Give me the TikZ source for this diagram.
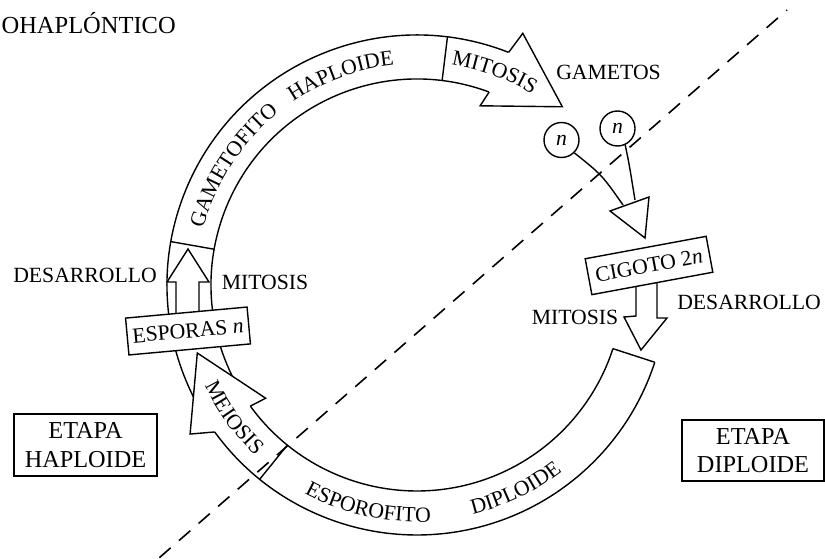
\documentclass[tikz,border=0pt]{standalone}
\usepackage{fontspec}
\setmainfont{Liberation Serif}
\usetikzlibrary{decorations.text}
\newcommand\labfont{\fontsize{21.7}{26}\selectfont}
\newcommand\etapafont{\fontsize{24.3}{28.5}\selectfont}
\newcommand\titlefont{\fontsize{24.5}{29}\selectfont}

\tikzset{
  outline/.style={line width=1.4pt, line join=miter},
  blockarrow/.style={outline, fill=white},
  labelbox/.style={draw, line width=1.4pt, fill=white, inner sep=0pt, font=\labfont},
  stagebox/.style={draw, line width=1.4pt, align=center, inner sep=0pt,
    minimum width=143pt, minimum height=62pt, font=\etapafont},
  gamete/.style={circle, draw, line width=1.4pt, fill=white, minimum size=35pt,
    inner sep=0pt, font=\labfont},
  plain/.style={inner sep=0pt, font=\labfont},
  bandtext/.style={decorate, decoration={text along path, text align=center,
    text={|\labfont|#1}}},
  splitline/.style={line width=1.6pt, dash pattern=on 15pt off 11pt, dash phase=14pt}
}

\begin{document}
\begin{tikzpicture}[x=1pt, y=1pt]
\useasboundingbox (0,0) rectangle (825,558);

% ---- life-cycle ring ----
\begin{scope}[shift={(417,273)}]
  \draw[outline] (68.5:250pt) arc[start angle=68.5, end angle=342, radius=250pt];
  \draw[outline] (69.5:206pt) arc[start angle=69.5, end angle=342, radius=206pt];
  \draw[outline] (342:206pt) -- (342:250pt);
  % stage dividers
  \draw[outline] (170:206pt) -- (170:250pt);
  \draw[outline] (83:206pt) -- (83:250pt);
  \draw[outline] (231:206pt) -- (231:250pt);
  % arrow heads of the ring (mitosis to gametes, meiosis to spores)
  \filldraw[blockarrow] (68.5:250pt) -- (67.2:273pt) -- (50.8:230pt) -- (70.6:190pt) -- (69.5:206pt);
  \filldraw[blockarrow] (216:250pt) -- (213.3:271.5pt) -- (197.2:230pt) -- (216.8:189pt) -- (216:206pt);
\end{scope}

% ---- spores develop into the gametophyte ----
\filldraw[blockarrow] (176,240) -- (176,276) -- (167,276) -- (188,309) -- (209,276) -- (199,276) -- (199,240);

% ---- zygote develops into the sporophyte ----
\filldraw[blockarrow] (636,280) -- (636,242) -- (624,241) -- (641,208) -- (667,240) -- (657,240) -- (657,280);

% ---- gametes and fertilisation ----
\node[gamete] (g1) at (561.5,418) {\textit{n}};
\node[gamete] (g2) at (617.5,429.5) {\textit{n}};
\coordinate (ta) at (610,347);
\coordinate (tb) at (649,361);
\coordinate (tc) at (645,320);
\coordinate (t1) at (623,353);
\coordinate (t2) at (635,358);
\draw[outline] (g1.-45) .. controls (602,383) .. (t1);
\draw[outline] (g2.-65) .. controls (629,395) .. (t2);
\filldraw[blockarrow] (ta) -- (tb) -- (tc) -- cycle;

% ---- haploid / diploid split ----
\coordinate (dtop) at (787,548);
\coordinate (dbot) at (159,0);
\draw[splitline] (dtop) -- (dbot);

% ---- boxes ----
\node[labelbox, minimum width=122pt, minimum height=37pt, rotate=5.2] (esporas) at (188,227) {ESPORAS \textit{n}};
\node[labelbox, minimum width=123pt, minimum height=36.5pt, rotate=10.5] (cigoto) at (649,292.5) {CIGOTO 2\textit{n}};
\node[stagebox] (hap) at (85.5,113) {ETAPA\\HAPLOIDE};
\node[stagebox, minimum width=142pt, minimum height=61pt] (dip) at (753,107.5) {ETAPA\\DIPLOIDE};

% ---- labels ----
\node[inner sep=0pt, anchor=base east, font=\titlefont] (title) at (176,524) {CICLO DIPLOHAPLÓNTICO};
\node[plain] (gametos) at (608.5,486) {GAMETOS};
\node[plain] (desl) at (85,283) {DESARROLLO};
\node[plain] (mitl) at (265,276) {MITOSIS};
\node[plain] (mitr) at (575,241) {MITOSIS};
\node[plain] (desr) at (749,256) {DESARROLLO};

% ---- texts along the ring ----
\begin{scope}[shift={(417,273)}]
  \path[bandtext=GAMETOFITO] (172:221pt) arc[start angle=172, end angle=122, radius=221pt];
  \path[bandtext=HAPLOIDE] (135:221pt) arc[start angle=135, end angle=85, radius=221pt];
  \path[bandtext=MITOSIS] (95:223pt) arc[start angle=95, end angle=45, radius=223pt];
  \path[bandtext=ESPOROFITO] (232:237pt) arc[start angle=232, end angle=283, radius=237pt];
  \path[bandtext=DIPLOIDE] (270:236pt) arc[start angle=270, end angle=321.6, radius=236pt];
  \path[bandtext=MEIOSIS] (191:235pt) arc[start angle=191, end angle=241, radius=235pt];
\end{scope}
\end{tikzpicture}
\end{document}
